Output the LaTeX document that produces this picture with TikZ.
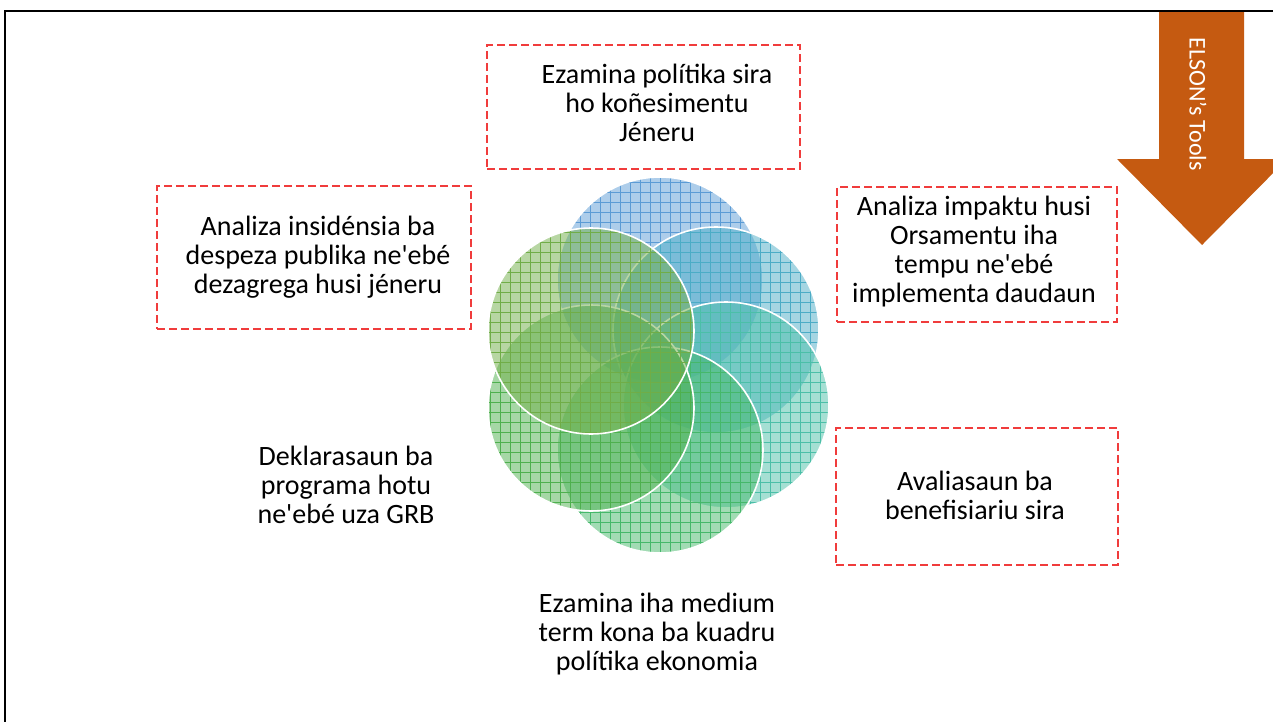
\documentclass[tikz,border=0pt]{standalone}
\usepackage{fontspec}
\setmainfont{Carlito}
\usetikzlibrary{patterns.meta}

\definecolor{petalA}{HTML}{5B9BD5}
\definecolor{petalB}{HTML}{4BACC6}
\definecolor{petalC}{HTML}{4BBFA8}
\definecolor{petalD}{HTML}{45B86A}
\definecolor{petalE}{HTML}{4EB04E}
\definecolor{petalF}{HTML}{70AD47}
\definecolor{boxred}{HTML}{F03C3C}
\definecolor{arrowor}{HTML}{C55A11}

\begin{document}
\begin{tikzpicture}[%
    x=0.5pt, y=-0.5pt,
    petal/.style={circle, minimum size=103pt, inner sep=0pt, draw=white, line width=0.8pt,
      fill opacity=0.5, preaction={fill=#1},
      pattern={Hatch[distance=5pt,line width=0.25pt]}, pattern color=#1},
    tbox/.style={draw=boxred, dash pattern=on 4pt off 2pt, line width=0.75pt, inner sep=0pt},
    txt/.style={align=center, font=\fontsize{14}{14.5}\selectfont}]

    \useasboundingbox (0,0) rectangle (1273,722);
    \clip (0,0) rectangle (1273,722);

    \node[petal=petalA] (p1) at (660,280) {};
    \node[petal=petalB] (p2) at (716,330) {};
    \node[petal=petalC] (p3) at (726,405) {};
    \node[petal=petalD] (p4) at (660,450) {};
    \node[petal=petalE] (p5) at (591,408) {};
    \node[petal=petalF] (p6) at (591,331) {};

    \node[tbox, minimum width=156.5pt, minimum height=62pt] (boxpol) at (643.5,107) {};
    \node[txt] (pol) at (657,103) {Ezamina polítika sira\\ho koñesimentu\\Jéneru};

    \node[tbox, minimum width=157pt, minimum height=71.5pt] (boxdes) at (314,257.5) {};
    \node[txt] (des) at (318,257) {Analiza insidénsia ba\\despeza publika ne\textquotesingle ebé\\dezagrega husi jéneru};

    \node[tbox, minimum width=140pt, minimum height=67.5pt] (boximp) at (977,254.5) {};
    \node[txt] (imp) at (974,252) {Analiza impaktu husi\\Orsamentu iha\\tempu ne\textquotesingle ebé\\implementa daudaun};

    \node[tbox, minimum width=141pt, minimum height=68.5pt] (boxben) at (977,496.5) {};
    \node[txt] (ben) at (975,495) {Avaliasaun ba\\benefisiariu sira};

    \node[txt] (dek) at (346,485) {Deklarasaun ba\\programa hotu\\ne\textquotesingle ebé uza GRB};
    \node[txt] (eko) at (657,634) {Ezamina iha medium\\term kona ba kuadru\\polítika ekonomia};

    \fill[arrowor] (1159,12) -- (1244,12) -- (1244,159) -- (1287,159) -- (1202,245)
      -- (1117,159) -- (1159,159) -- cycle;
    \node[rotate=-90, text=white, font=\fontsize{12}{14}\selectfont] (tools) at (1198,104) {ELSON’s Tools};

    \draw[line width=1.3pt] (5,722) -- (5,11) -- (1273,11);

\end{tikzpicture}
\end{document}
